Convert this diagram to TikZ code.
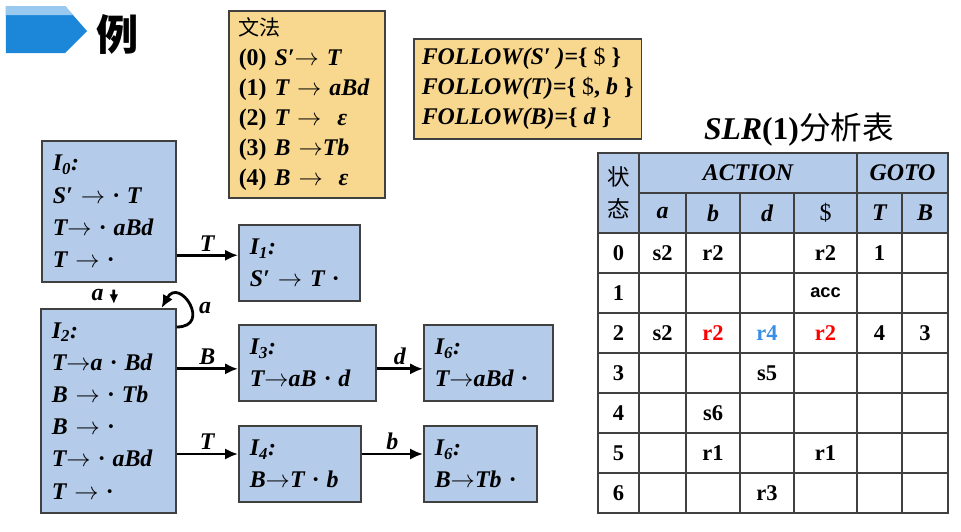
\documentclass[tikz,border=0pt]{standalone}
\usepackage{fontspec}
\setmainfont{Liberation Serif}
\setsansfont{Liberation Sans}
\newfontfamily\cjk{Noto Sans CJK SC}
\usetikzlibrary{arrows.meta, positioning}
\definecolor{cstate}{HTML}{B4CBEA}
\definecolor{cgram}{HTML}{F8D88E}
\definecolor{cframe}{HTML}{404040}
\definecolor{ctag}{HTML}{1C87D9}
\definecolor{cred}{HTML}{FF0000}
\definecolor{csky}{HTML}{3A8EE6}
\newcommand{\goes}{$\rightarrow$}
\tikzset{
  every picture/.style={line width=1.1pt},
  state/.style={draw=cframe, fill=cstate, anchor=north west, align=left, inner xsep=2.75mm, inner ysep=0pt, font=\fontsize{17}{22.9}\selectfont\bfseries\itshape},
  gram/.style={draw=cframe, fill=cgram, anchor=north west, align=left, inner xsep=2.5mm, inner ysep=0pt, font=\fontsize{17}{21.3}\selectfont\bfseries},
  arrow/.style={-{Latex[length=3.2mm, width=2.8mm]}, line width=2pt},
  lbl/.style={font=\fontsize{17}{17}\selectfont\bfseries\itshape, inner sep=2pt},
  grid/.style={draw=cframe, line width=1pt},
  cell/.style={font=\fontsize{16}{16}\selectfont\bfseries},
  hd/.style={font=\fontsize{17}{17}\selectfont\bfseries\itshape},
}

\begin{document}
\begin{tikzpicture}
  \useasboundingbox (0,0) rectangle (24.025,-13.275);
  % title tag
  \fill[ctag] (0.15,-0.15) -- (1.625,-0.15) -- (2.175,-0.775) -- (1.625,-1.325) -- (0.15,-1.325) -- cycle;
  \fill[ctag!45] (0.15,-0.15) -- (1.625,-0.15) -- (1.825,-0.375) -- (0.15,-0.375) -- cycle;
  \node[font=\cjk\fontsize{30}{30}\selectfont\bfseries] (li) at (2.95,-0.85) {例};

  % grammar and follow sets
  \node[gram, text width=3.4cm, minimum height=4.675cm] (grammar) at (5.7,-0.25)
    {{\cjk\mdseries\fontsize{15}{15}\selectfont 文法}\\ (0) \textit{S′\goes\ T}\\ (1) \textit{T \goes\ aBd}\\ (2) \textit{T \goes\ \ ε}\\ (3) \textit{B \goes Tb}\\ (4) \textit{B \goes\ \ ε}};
  \node[gram, inner xsep=2mm, minimum width=5.675cm, minimum height=2.5cm] (follow) at (10.325,-0.95)
    {\textit{FOLLOW(S′ )}=\{ {\mdseries\$} \}\\ \textit{FOLLOW(T)}=\{ {\mdseries\$}, \textit{b} \}\\ \textit{FOLLOW(B)}=\{ \textit{d} \}};

  % item sets
  \node[state, text width=2.8cm, minimum height=3.525cm] (i0) at (1.025,-3.5) {I\textsubscript{0}:\\ S′ \goes\ · T\\ T\goes\ · aBd\\ T \goes\ ·};
  \node[state, text width=2.475cm, minimum height=1.9cm] (i1) at (5.95,-5.6) {I\textsubscript{1}:\\ S′ \goes\ T ·};
  \node[state, text width=2.825cm, minimum height=5.1cm] (i2) at (1.0,-7.7) {I\textsubscript{2}:\\ T\goes a · Bd\\ B \goes\ · Tb\\ B \goes\ ·\\ T\goes\ · aBd\\ T \goes\ ·};
  \node[state, text width=2.875cm, minimum height=1.9cm] (i3) at (5.95,-8.1) {I\textsubscript{3}:\\ T\goes aB · d};
  \node[state, text width=2.675cm, minimum height=1.9cm] (i6a) at (10.575,-8.1) {I\textsubscript{6}:\\ T\goes aBd ·};
  \node[state, text width=2.5cm, minimum height=1.9cm] (i4) at (5.95,-10.625) {I\textsubscript{4}:\\ B\goes T · b};
  \node[state, text width=2.275cm, minimum height=1.9cm] (i6b) at (10.575,-10.625) {I\textsubscript{6}:\\ B\goes Tb ·};

  % transitions
  \draw[arrow] (i0.east |- i1.173) -- node[lbl, above] {T} (i1.173);
  \draw[arrow, -{Latex[length=2.4mm, width=2.2mm]}, shorten <=1.75mm, shorten >=1mm] ([xshift=1.25mm]i0.south) -- node[lbl, left, xshift=-1.5mm] {a} ([xshift=1.4mm]i2.north);
  \draw[arrow] ([yshift=-4.75mm]i2.north east) .. controls +(0.9,0) and +(0.45,0.8) .. node[lbl, pos=0.45, right, xshift=1mm] {a} ([xshift=-3.75mm]i2.north east);
  \draw[arrow] (i2.east |- i3.185) -- node[lbl, above] {B} (i3.185);
  \draw[arrow] (i3.355) -- node[lbl, above] {d} (i3.355 -| i6a.west);
  \draw[arrow] (i2.east |- i4.171) -- node[lbl, above] {T} (i4.171);
  \draw[arrow] (i4.9) -- node[lbl, above] {b} (i4.9 -| i6b.west);

  % SLR(1) table
  \node[font=\fontsize{22.5}{22.5}\selectfont\bfseries] (tabtitle) at (19.975,-3.25) {\textit{SLR}(1){\cjk\mdseries 分析表}};
  \fill[cstate] (14.95,-3.825) rectangle (23.7,-5.825);
  \draw[grid] (14.95,-3.825) rectangle (23.7,-12.825);
  \draw[grid] (15.975,-4.825) -- (23.7,-4.825);
  \foreach \y in {-5.825,-6.825,...,-11.825} \draw[grid] (14.95,\y) -- (23.7,\y);
  \foreach \x in {15.975,21.425} \draw[grid] (\x,-3.825) -- (\x,-12.825);
  \foreach \x in {17.15,18.5,19.85,22.55} \draw[grid] (\x,-4.825) -- (\x,-12.825);
  \foreach \c/\x in {0/15.4625,1/16.5625,2/17.825,3/19.175,4/20.6375,5/21.9875,6/23.125}
    \coordinate (col\c) at (\x,0);
  \foreach \r in {0,...,6} \coordinate (row\r) at (0,{-6.325-\r});
  \node[font=\cjk\fontsize{16}{22.7}\selectfont, align=center] (zhuangtai) at (15.4625,-4.825) {状\\态};
  \node[hd] (action) at (18.7,-4.325) {ACTION};
  \node[hd] (goto) at (22.5625,-4.325) {GOTO};
  \foreach \c/\t in {1/a,2/b,3/d,5/T,6/B} \node[hd] (sym\c) at (col\c |- 0,-5.325) {\t};
  \node[hd, font=\fontsize{17}{17}\selectfont] (sym4) at (col4 |- 0,-5.325) {\$};
  \foreach \r in {0,...,6} \node[cell] (st\r) at (col0 |- row\r) {\r};
  \foreach \r/\c/\t in {0/1/s2, 0/2/r2, 0/4/r2, 0/5/1,
                        1/4/{\sffamily\fontsize{13}{13}\selectfont acc},
                        2/1/s2, 2/2/\textcolor{cred}{r2}, 2/3/\textcolor{csky}{r4}, 2/4/\textcolor{cred}{r2}, 2/5/4, 2/6/3,
                        3/3/s5, 4/2/s6, 5/2/r1, 5/4/r1, 6/3/r3}
    \node[cell] (cell\r\c) at (col\c |- row\r) {\t};
\end{tikzpicture}
\end{document}
